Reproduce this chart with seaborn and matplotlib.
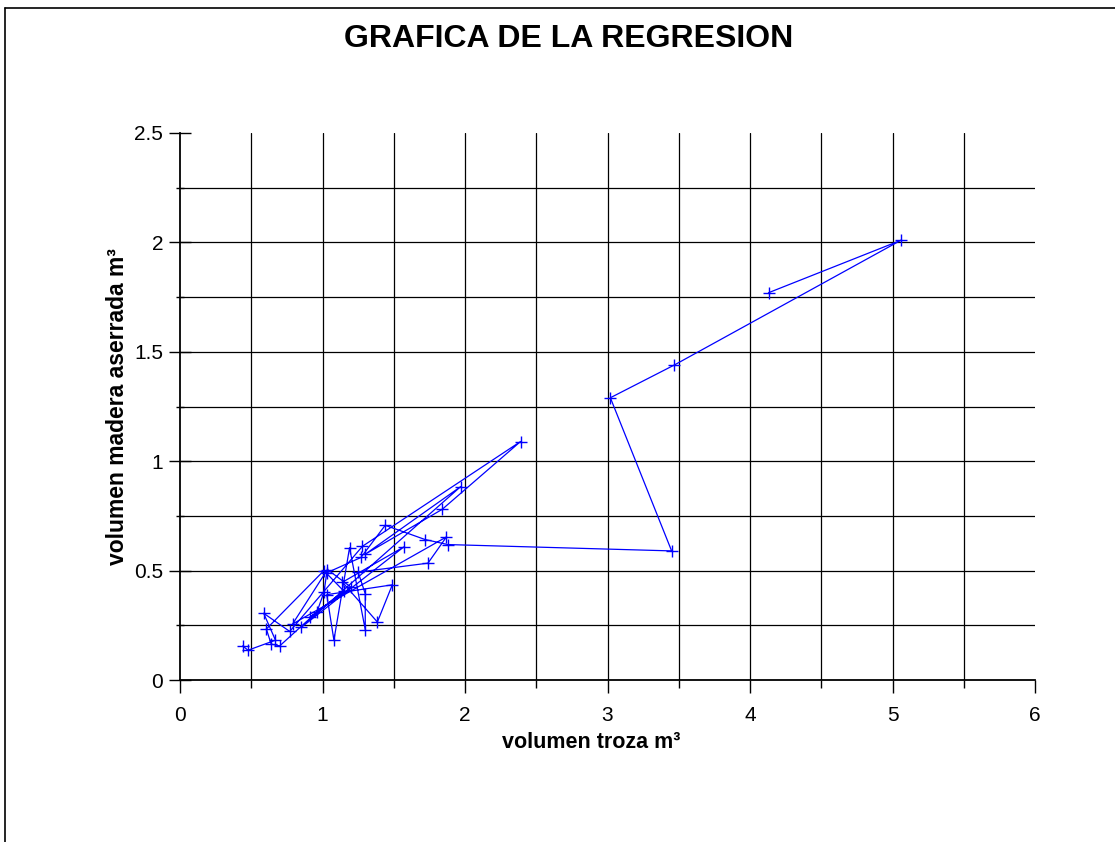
import numpy as np
import pandas as pd
import matplotlib
matplotlib.use("Agg")
import matplotlib.pyplot as plt
from matplotlib.lines import Line2D
from matplotlib.ticker import MultipleLocator
import seaborn as sns

# data (in the order the series is connected)
volumen_troza = [0.44, 0.477, 0.67, 0.587, 0.77, 1.28, 2.39, 1.84, 1.30, 1.97,
                 0.85, 1.57, 1.14, 1.385, 1.49, 1.03, 1.08, 1.19, 1.30, 1.30,
                 1.25, 1.74, 1.87, 0.79, 1.035, 1.20, 0.91, 1.15, 1.01, 0.606,
                 0.64, 0.70, 0.96, 1.01, 1.03, 1.27, 1.44, 1.72, 1.88,
                 3.45, 3.02, 3.47, 5.06, 4.13]
volumen_aserrada = [0.156, 0.136, 0.182, 0.305, 0.222, 0.611, 1.09, 0.78, 0.575, 0.884,
                    0.24, 0.608, 0.447, 0.265, 0.435, 0.39, 0.182, 0.605, 0.23, 0.394,
                    0.493, 0.534, 0.654, 0.256, 0.505, 0.424, 0.286, 0.406, 0.50, 0.233,
                    0.164, 0.156, 0.31, 0.40, 0.49, 0.56, 0.707, 0.642, 0.619,
                    0.59, 1.29, 1.44, 2.01, 1.77]

x_ticks = [0, 1, 2, 3, 4, 5, 6]
x_ticklabels = ["0", "1", "2", "3", "4", "5", "6"]
y_ticks = [0, 0.5, 1, 1.5, 2, 2.5]
y_ticklabels = ["0", "0.5", "1", "1.5", "2", "2.5"]

title = "GRAFICA DE LA REGRESION"
xlabel = "volumen troza m³"
ylabel = "volumen madera aserrada m³"

sns.set_style("white")
plt.rcParams['font.family'] = ['Liberation Sans', 'DejaVu Sans']
plt.rcParams['text.color'] = 'black'
plt.rcParams['axes.labelcolor'] = 'black'
plt.rcParams['xtick.color'] = 'black'
plt.rcParams['ytick.color'] = 'black'

fig = plt.figure(figsize=(11.15, 8.42), dpi=100)
ax = fig.add_axes([180/1115, 1-680/842, (1035-180)/1115, (680-133)/842])

df = pd.DataFrame({"x": volumen_troza, "y": volumen_aserrada})
sns.lineplot(data=df, x="x", y="y", sort=False, estimator=None, ax=ax,
             color="#0000ff", linewidth=0.9, marker="+", markersize=8,
             markeredgecolor="#0000ff", markeredgewidth=1.0)

ax.set_xlim(0, 6)
ax.set_ylim(0, 2.5)
ax.set_xticks(x_ticks)
ax.set_xticklabels(x_ticklabels)
ax.set_yticks(y_ticks)
ax.set_yticklabels(y_ticklabels)
ax.xaxis.set_minor_locator(MultipleLocator(0.5))
ax.yaxis.set_minor_locator(MultipleLocator(0.25))

# grid lines
for gx in np.arange(0.5, 6.0, 0.5):
    ax.axvline(gx, color="black", linewidth=0.9, zorder=0)
for gy in np.arange(0.25, 2.5, 0.25):
    ax.axhline(gy, color="black", linewidth=0.9, zorder=0)

for s in ["top", "right"]:
    ax.spines[s].set_visible(False)
for s in ["left", "bottom"]:
    ax.spines[s].set_color("black")
    ax.spines[s].set_linewidth(1.3)

ax.tick_params(axis="x", which="major", direction="out", length=9, width=1,
               labelsize=15, pad=10, bottom=True)
ax.tick_params(axis="x", which="minor", direction="out", length=6, width=1, bottom=True)
ax.tick_params(axis="y", which="major", direction="inout", length=16, width=1,
               labelsize=15, pad=4, left=True)
ax.tick_params(axis="y", which="minor", direction="inout", length=6, width=1, left=True)

ax.set_xlabel(xlabel, fontsize=15.5, fontweight="bold", labelpad=8)
ax.xaxis.set_label_coords((591-180)/855, -0.095)
ax.set_ylabel(ylabel, fontsize=16.5, fontweight="bold", labelpad=4)

fig.text(569/1115, 1-39/842, title, fontsize=23, fontweight="bold", ha="center", va="center")

# outer frame (left and top edges)
fig.add_artist(Line2D([5/1115, 5/1115], [0, 1-8/842], transform=fig.transFigure, color="black", linewidth=1.2))
fig.add_artist(Line2D([5/1115, 1], [1-8/842, 1-8/842], transform=fig.transFigure, color="black", linewidth=1.2))

fig.savefig("out.png", dpi=100)
